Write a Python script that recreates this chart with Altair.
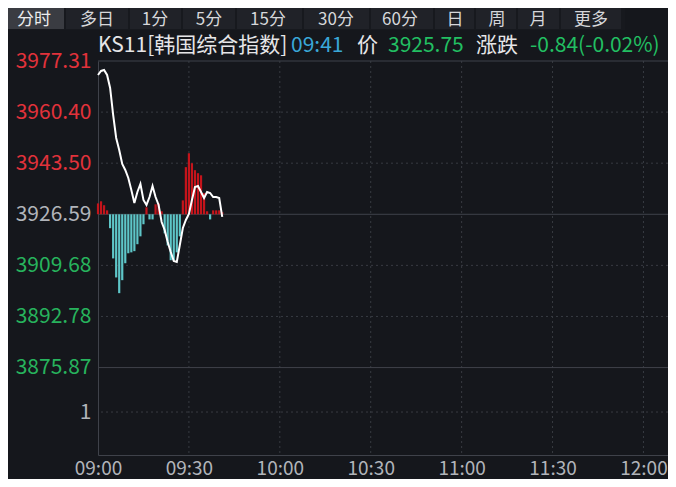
import altair as alt
import pandas as pd

# ---------------- data ----------------
times = ["09:00", "09:01", "09:02", "09:03", "09:04", "09:05", "09:06", "09:07", "09:08", "09:09",
         "09:10", "09:11", "09:12", "09:13", "09:14", "09:15", "09:16", "09:17", "09:18", "09:19",
         "09:20", "09:21", "09:22", "09:23", "09:24", "09:25", "09:26", "09:27", "09:28", "09:29",
         "09:30", "09:31", "09:32", "09:33", "09:34", "09:35", "09:36", "09:37", "09:38", "09:39",
         "09:40", "09:41"]
prices = [3972.68, 3974.01, 3974.34, 3972.68, 3968.38, 3959.45, 3951.84, 3947.87, 3943.23, 3941.25,
          3938.60, 3934.63, 3930.33, 3933.97, 3936.62, 3931.32, 3929.67, 3932.31, 3935.95, 3932.31,
          3929.67, 3924.04, 3921.39, 3917.42, 3914.12, 3911.14, 3910.81, 3916.43, 3922.06, 3924.70,
          3926.69, 3931.32, 3935.62, 3935.95, 3933.97, 3931.98, 3933.97, 3933.64, 3932.31, 3932.31,
          3931.98, 3925.75]
bar_values = [3.6, 4.3, 3.0, 1.3, -4.6, -14.6, -20.9, -26.1, -21.8, -16.2,
              -12.9, -12.6, -12.2, -9.9, -7.3, -3.3, 2.3, -1.7, -1.7, 3.3,
              3.6, 1.0, -6.3, -10.3, -15.2, -15.2, -12.6, -7.3, 4.6, 15.6,
              20.2, 16.9, 14.6, 13.6, 12.9, 7.0, 1.0, -1.7, 1.3, 1.3,
              1.3, 0.7]
prev_close = 3926.59
y_ticks = [3977.31, 3960.40, 3943.50, 3926.59, 3909.68, 3892.78, 3875.87, 3861.16]
dashed_levels = [3960.40, 3943.50, 3909.68, 3892.78, 3861.16]
solid_levels = [3977.31, 3926.59, 3875.87]
x_ticks = ["09:00", "09:30", "10:00", "10:30", "11:00", "11:30", "12:00"]
tabs = ["分时", "多日", "1分", "5分", "15分", "30分", "60分", "日", "周", "月", "更多"]
title_parts = ["KS11[韩国综合指数]", "09:41", "价", "3925.75", "涨跌", "-0.84(-0.02%)"]


def to_min(t):
    h, m = t.split(":")
    return (int(h) - 9) * 60 + int(m)


df = pd.DataFrame({
    "minute": [to_min(t) for t in times],
    "price": prices,
    "bar": bar_values,
})
df["base"] = prev_close
df["top"] = df["base"] + df["bar"]
df["dir"] = ["up" if v > 0 else "down" for v in bar_values]

x_tick_min = [to_min(t) for t in x_ticks]
vgrid = pd.DataFrame({"minute": x_tick_min[1:]})
hdash = pd.DataFrame({"level": dashed_levels})
hsolid = pd.DataFrame({"level": solid_levels})

# ---------------- styles ----------------
BG = "#15171c"
GRID = "#383b42"
LINE = "#3f424a"
RED_LBL = "#e2323b"
GREEN_LBL = "#27b35d"
GRAY_LBL = "#b1b4ba"
BAR_RED = "#c4141b"
BAR_CYAN = "#5ec6c8"
FONT = "Noto Sans CJK SC"

W, H = 570, 394
X_DOMAIN = [0, 188.1]
Y_DOMAIN = [3846.94, 3977.31]

xs = alt.Scale(domain=X_DOMAIN, nice=False, zero=False)
ys = alt.Scale(domain=Y_DOMAIN, nice=False, zero=False)

label_expr_x = ("(9 + floor(datum.value / 60) < 10 ? '0' : '') + (9 + floor(datum.value / 60)) + ':' + "
                "(datum.value % 60 < 10 ? '0' : '') + (datum.value % 60)")

x_axis = alt.Axis(values=x_tick_min, labelExpr=label_expr_x, grid=False, ticks=False,
                  domainColor=LINE, labelColor=GRAY_LBL, labelFontSize=19, labelFont=FONT,
                  labelPadding=4, title=None, labelFlush=False)
y_axis = alt.Axis(values=y_ticks, grid=False, ticks=False, domainColor=LINE,
                  labelExpr="datum.value < 3870 ? '1' : format(datum.value, '.2f')",
                  labelColor={"condition": [
                      {"test": "datum.value > 3927", "value": RED_LBL},
                      {"test": "datum.value > 3926", "value": GRAY_LBL},
                      {"test": "datum.value > 3870", "value": GREEN_LBL}],
                      "value": GRAY_LBL},
                  labelFontSize=21, labelFont=FONT, labelPadding=7, title=None)

# grid
grid_v = alt.Chart(vgrid).mark_rule(color=GRID, strokeDash=[2, 3], strokeWidth=1).encode(
    x=alt.X("minute:Q", scale=xs, axis=x_axis))
grid_h = alt.Chart(hdash).mark_rule(color=GRID, strokeDash=[2, 3], strokeWidth=1).encode(
    y=alt.Y("level:Q", scale=ys, axis=y_axis))
solid_h = alt.Chart(hsolid).mark_rule(color=LINE, strokeWidth=1).encode(
    y=alt.Y("level:Q", scale=ys))

bars = alt.Chart(df).mark_rule(strokeWidth=2.2).encode(
    x=alt.X("minute:Q", scale=xs),
    y=alt.Y("base:Q", scale=ys),
    y2="top:Q",
    color=alt.Color("dir:N", scale=alt.Scale(domain=["up", "down"], range=[BAR_RED, BAR_CYAN]),
                    legend=None),
)

line = alt.Chart(df).mark_line(color="#ffffff", strokeWidth=2, interpolate="linear").encode(
    x=alt.X("minute:Q", scale=xs),
    y=alt.Y("price:Q", scale=ys),
)

one = alt.Data(values=[{}])

# tab bar (pixel layout relative to plot origin)
tab_layers = []
tab_layers.append(alt.Chart(one).mark_rect(color="#17191e").encode(
    x=alt.value(-90), x2=alt.value(527), y=alt.value(-53), y2=alt.value(-31)))
tab_edges = [-90, -33, 31, 84, 138, 205, 272, 336, 377, 419, 462, 524]
tab_centers = [34, 97, 155, 209, 268, 336, 400, 455, 497, 538, 591]
for i in range(len(tab_edges) - 1):
    tab_layers.append(alt.Chart(one).mark_rect(color="#3a3c42" if i == 0 else "#202228").encode(
        x=alt.value(tab_edges[i] + (0 if i == 0 else 1)), x2=alt.value(tab_edges[i + 1] - 1),
        y=alt.value(-53), y2=alt.value(-32)))
for name, cx in zip(tabs, tab_centers):
    tab_layers.append(alt.Chart(one).mark_text(
        text=name, font=FONT, fontSize=17, color="#d6d7da" if name != "分时" else "#ececee",
        align="center", baseline="middle").encode(
        x=alt.value(cx - 98), y=alt.value(-41)))

# title line
title_x = [98, 291, 357, 388, 476, 530]
title_colors = ["#e6e6e8", "#3aa7d8", "#e6e6e8", "#22bf62", "#e6e6e8", "#22bf62"]
title_layers = []
for txt, tx, col in zip(title_parts, title_x, title_colors):
    title_layers.append(alt.Chart(one).mark_text(
        text=txt, font=FONT, fontSize=21, color=col, align="left", baseline="middle").encode(
        x=alt.value(tx - 98), y=alt.value(-15)))

chart = alt.layer(
    grid_v, grid_h, solid_h, bars, line, *tab_layers, *title_layers
).properties(
    width=W, height=H,
    autosize=alt.AutoSizeParams(type="none"),
    padding={"left": 90, "top": 53, "right": 0, "bottom": 24},
).configure(
    background=BG,
).configure_view(
    stroke=None,
)

chart.save("out.html", embed_options={"renderer": "svg", "actions": False})
